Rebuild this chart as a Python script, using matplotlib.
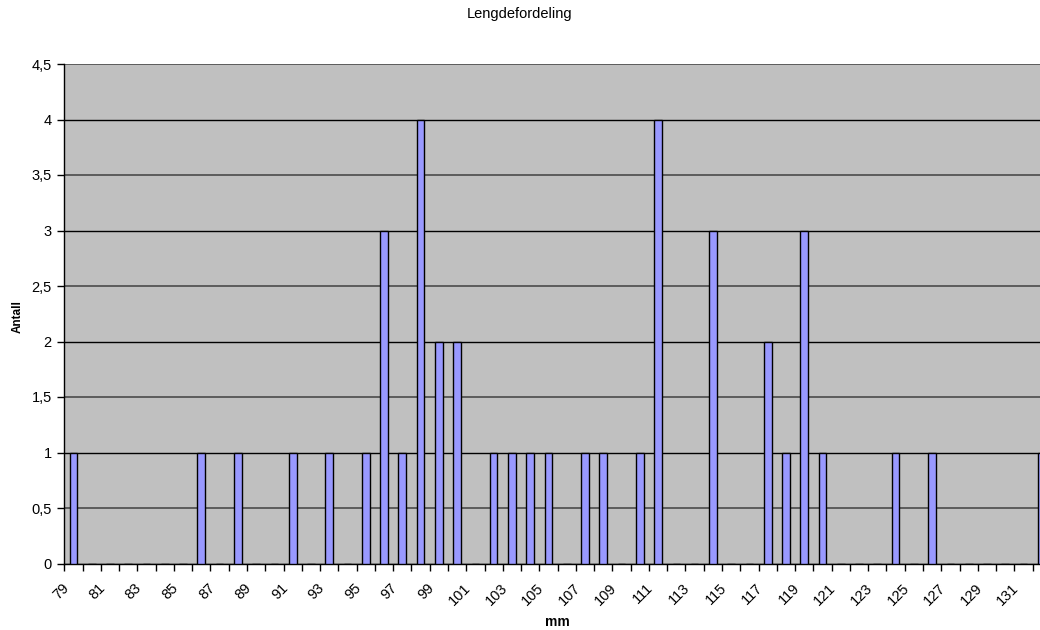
import numpy as np
import matplotlib.pyplot as plt
from matplotlib.ticker import FuncFormatter, MultipleLocator
from matplotlib.transforms import ScaledTranslation

plt.rcParams['font.family'] = ['Liberation Sans', 'DejaVu Sans']

# lengths (mm) that occur and their counts
lengths = [79, 86, 88, 91, 93, 95, 96, 97, 98, 99, 100, 102, 103, 104, 105,
           107, 108, 110, 111, 114, 117, 118, 119, 120, 124, 126, 132]
counts = [1, 1, 1, 1, 1, 1, 3, 1, 4, 2, 2, 1, 1, 1, 1,
          1, 1, 1, 4, 3, 2, 1, 3, 1, 1, 1, 1]

# category axis runs over every mm from 79 to 132
categories = list(range(79, 133))
values = [counts[lengths.index(c)] if c in lengths else 0 for c in categories]

title = "Lengdefordeling"
xlabel = "mm"
ylabel = "Antall"

fig = plt.figure(figsize=(10.4, 6.3), dpi=100)
# plot area runs past the right edge, as in the reference
ax = fig.add_axes([64.3 / 1040, 66.5 / 630, 54 * 18.27 / 1040, 499.5 / 630])
ax.set_facecolor('#C0C0C0')

x = np.arange(len(categories)) + 0.5
ax.bar(x, values, width=0.42, color='#9999FF', edgecolor='black',
       linewidth=1.0, zorder=3)

ax.set_xlim(0, len(categories))
ax.set_ylim(0, 4.5)

ax.yaxis.set_major_locator(MultipleLocator(0.5))
ax.yaxis.set_major_formatter(
    FuncFormatter(lambda v, p: (f"{v:g}").replace('.', ',')))
ax.grid(axis='y', color='black', linewidth=1.0, zorder=1)
ax.set_axisbelow(True)
# half-step lines look softer in the reference
for tick, line in zip(ax.get_yticks(), ax.yaxis.get_gridlines()):
    if tick % 1:
        line.set_color('#5c5c5c')
        line.set_linewidth(1.4)

# tick marks between categories, labels on every second category
ax.set_xticks(np.arange(len(categories) + 1))
ax.set_xticklabels([])
ax.set_xticks(x[::2], minor=True)
ax.set_xticklabels([str(c) for c in categories[::2]], minor=True,
                   rotation=45, ha='right', va='center',
                   rotation_mode='anchor', fontsize=10.5)
ax.tick_params(axis='x', which='major', length=5, width=1, direction='out')
ax.tick_params(axis='x', which='minor', length=0, pad=16)
ax.tick_params(axis='y', length=5, width=1, labelsize=10.5, pad=4)
shift = ScaledTranslation(-7 / 100, 0, fig.dpi_scale_trans)
for lab in ax.get_xticklabels(minor=True):
    lab.set_transform(lab.get_transform() + shift)

for side in ('top', 'right'):
    ax.spines[side].set_visible(False)
ax.spines['left'].set_linewidth(1.0)
ax.spines['bottom'].set_linewidth(1.0)

fig.text(0.5, 1 - 14 / 630, title, ha='center', va='center', fontsize=10.5)
fig.text(557 / 1040, 1 - 622 / 630, xlabel, ha='center', va='center',
         fontsize=10, fontweight='bold')
fig.text(17.5 / 1040, 1 - 317 / 630, ylabel, ha='center', va='center',
         rotation=90, fontsize=8.5, fontweight='bold')

fig.savefig('out.png', dpi=100)
